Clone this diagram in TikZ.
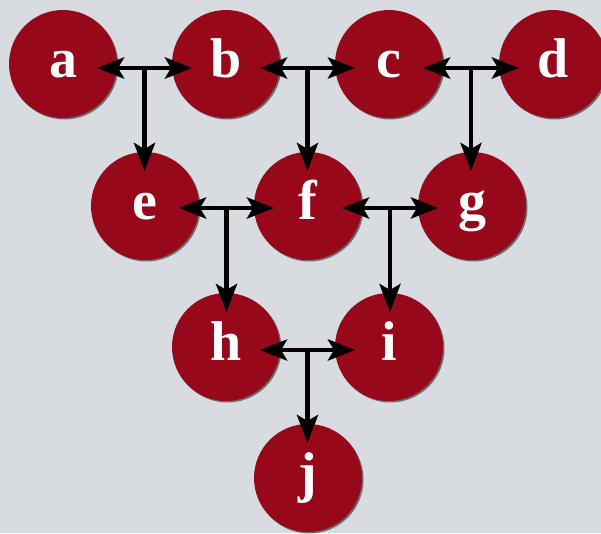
\documentclass[tikz,border=0pt]{standalone}
\usepackage{fontspec}
\setmainfont{Liberation Serif}
\usetikzlibrary{arrows.meta,calc}
\definecolor{bgray}{RGB}{216,220,224}
\definecolor{dred}{RGB}{150,8,26}
\tikzset{
  ball/.style={circle,fill=dred,minimum size=108pt,inner sep=0pt},
  letter/.style={text=white,anchor=base,inner sep=0pt,font=\fontsize{56}{56}\selectfont\bfseries},
  conn/.style={line width=4.8pt,black,-{Stealth[length=28pt,width=21pt,inset=6pt]}},
  both/.style={line width=4.8pt,black,{Stealth[length=27pt,width=21pt,inset=6pt]}-{Stealth[length=27pt,width=21pt,inset=6pt]},shorten <=34pt,shorten >=34pt},
  down/.style={conn,shorten >=35pt}
}
\newcommand{\ballnode}[3]{%
  \fill[black,opacity=0.5] ($(#2)+(1.5,1.5)$) circle (54);
  \node[ball] (#1) at (#2) {};
  \node[letter] (#1t) at ($(#2)+(0,13)$) {#3};
}
\begin{document}
\begin{tikzpicture}[x=1pt,y=-1pt]
\useasboundingbox (0,0) rectangle (601,533);
\clip (0,0) rectangle (601,533);
\fill[bgray] (0,0) rectangle (601,533);
\ballnode{a}{63,64}{a}
\ballnode{b}{226,64}{b}
\ballnode{c}{389,64}{c}
\ballnode{d}{553,64}{d}
\ballnode{e}{145,206}{e}
\ballnode{f}{308,206}{f}
\ballnode{g}{472,206}{g}
\ballnode{h}{226,347}{h}
\ballnode{i}{389,347}{i}
\ballnode{j}{308,478}{j}
% horizontal arrows
\draw[both] ([yshift=-4pt]a.center) -- ([yshift=-4pt]b.center);
\draw[both] ([yshift=-4pt]b.center) -- ([yshift=-4pt]c.center);
\draw[both] ([yshift=-4pt]c.center) -- ([yshift=-4pt]d.center);
\draw[both] ([yshift=-2pt]e.center) -- ([yshift=-2pt]f.center);
\draw[both] ([yshift=-2pt]f.center) -- ([yshift=-2pt]g.center);
\draw[both] ([yshift=-3pt]h.center) -- ([yshift=-3pt]i.center);
% junctions
\coordinate (ab) at ($([yshift=-4pt]a.center)!0.5!([yshift=-4pt]b.center)$);
\coordinate (bc) at ($([yshift=-4pt]b.center)!0.5!([yshift=-4pt]c.center)$);
\coordinate (cd) at ($([yshift=-4pt]c.center)!0.5!([yshift=-4pt]d.center)$);
\coordinate (ef) at ($([yshift=-2pt]e.center)!0.5!([yshift=-2pt]f.center)$);
\coordinate (fg) at ($([yshift=-2pt]f.center)!0.5!([yshift=-2pt]g.center)$);
\coordinate (hi) at ($([yshift=-3pt]h.center)!0.5!([yshift=-3pt]i.center)$);
\draw[down] (ab) -- (ab |- e.center);
\draw[down] (bc) -- (bc |- f.center);
\draw[down] (cd) -- (cd |- g.center);
\draw[down] (ef) -- (ef |- h.center);
\draw[down] (fg) -- (fg |- i.center);
\draw[down] (hi) -- (hi |- j.center);
\end{tikzpicture}
\end{document}
